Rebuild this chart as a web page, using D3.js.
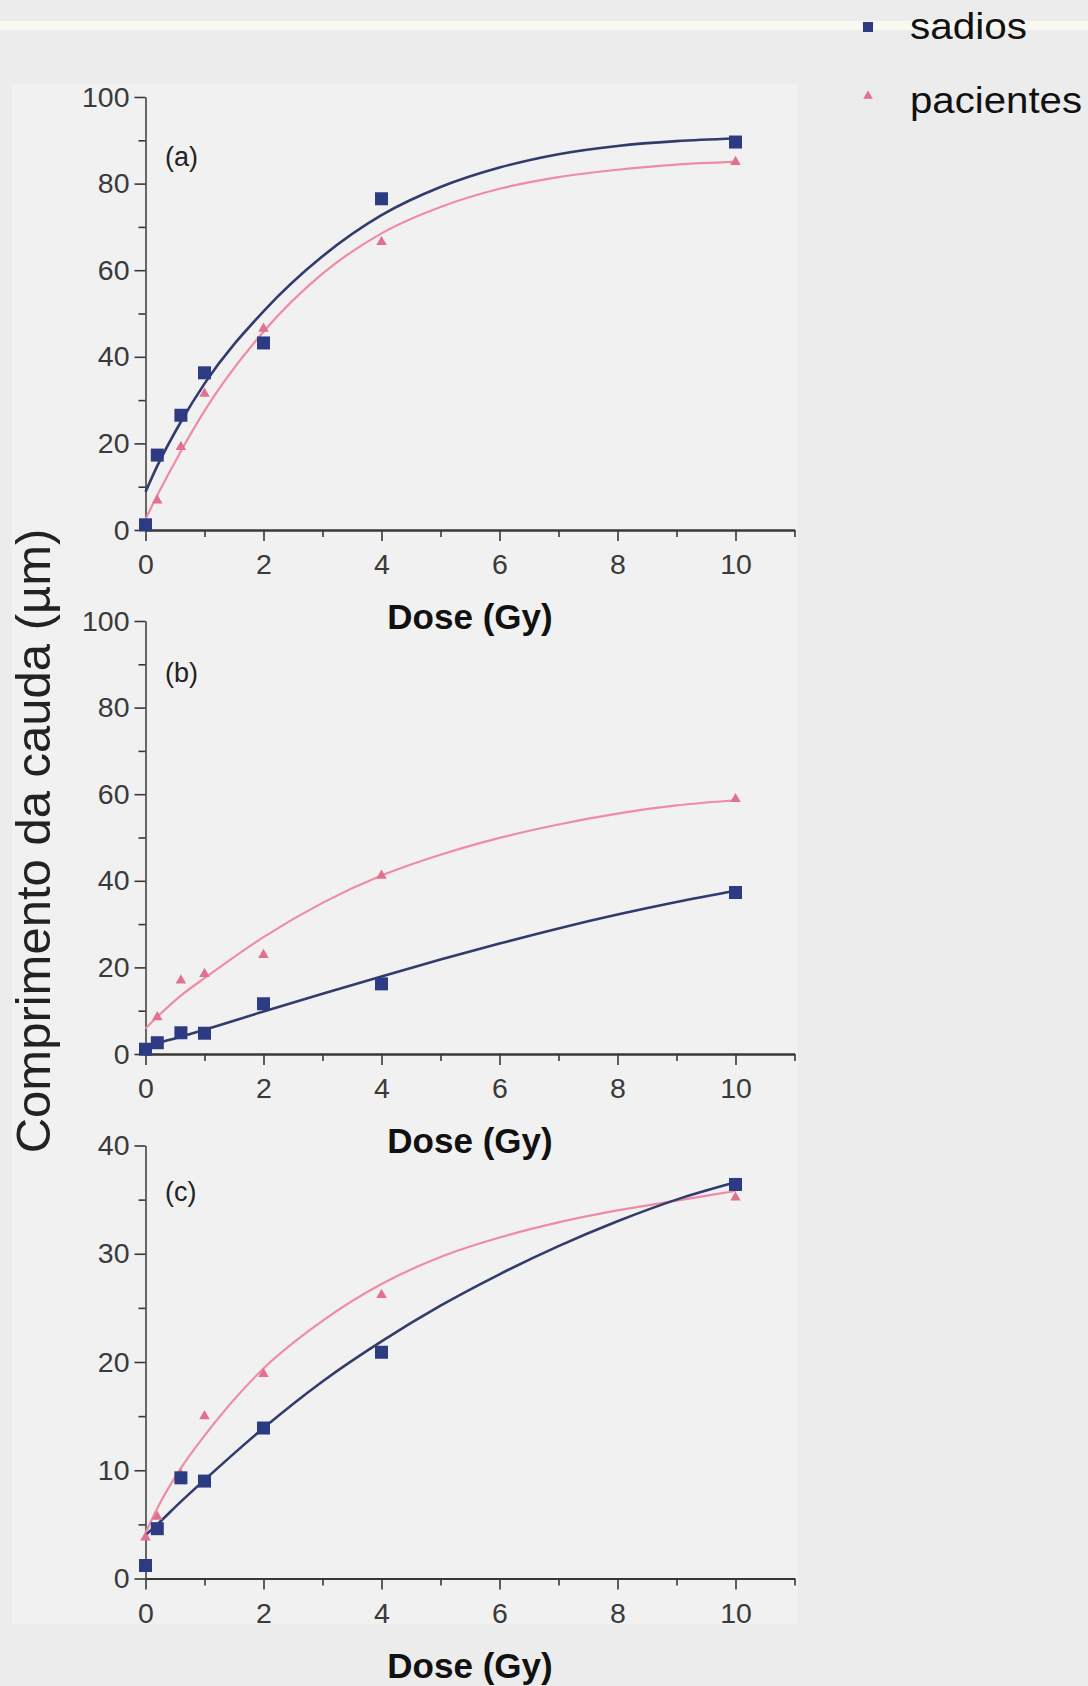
<!DOCTYPE html>
<html>
<head>
<meta charset="utf-8">
<script src="https://cdn.jsdelivr.net/npm/d3@7"></script>
<style>
	html, body { margin: 0; padding: 0; background: #ececec; }
	svg { display: block; }
	text { font-family: "Liberation Sans", Arial, sans-serif; }
</style>
</head>
<body>
<div id="chart"></div>
<script>
//Measured doses (Gy)
let doses = [0, 0.2, 0.6, 1, 2, 4, 10];

//Measured tail lengths (um), one array per panel and group
let sadiosA = [1.2, 17.3, 26.5, 36.3, 43.2, 76.5, 89.6];
let pacientesA = [1.0, 6.8, 19.2, 31.5, 46.5, 66.5, 85.0];
let sadiosB = [1.1, 2.6, 4.9, 4.8, 11.6, 16.2, 37.3];
let pacientesB = [1.5, 8.5, 17.0, 18.5, 22.9, 41.2, 58.9];
let sadiosC = [1.2, 4.6, 9.3, 9.0, 13.9, 20.9, 36.4];
let pacientesC = [3.8, 5.7, 9.6, 15.0, 18.9, 26.2, 35.2];

//Fitted curves
let fitDoses = [0, 0.2, 0.6, 1, 2, 3, 4, 5, 6, 7, 8, 9, 10];
let fitSadiosA = [8.8, 14.8, 25, 33.8, 50.5, 63.2, 72.7, 79.2, 83.7, 86.8, 88.7, 89.8, 90.4];
let fitPacientesA = [2.5, 8, 18.2, 27.5, 45.8, 59.2, 68.5, 74.6, 78.8, 81.5, 83.2, 84.4, 85];
let fitSadiosB = [1.7, 2.5, 4.0, 5.6, 9.8, 13.9, 17.9, 21.8, 25.5, 29.0, 32.2, 35.1, 37.7];
let fitPacientesB = [5.9, 8.6, 13.5, 17.5, 27.0, 34.9, 41.2, 46, 49.9, 53, 55.5, 57.4, 58.6];
let fitSadiosC = [4.0, 5.0, 7.1, 9.1, 13.9, 18.2, 21.9, 25.2, 28.1, 30.7, 33.0, 35.0, 36.6];
let fitPacientesC = [4.2, 6.5, 10.2, 13.2, 19.4, 23.8, 27.2, 29.7, 31.5, 32.9, 34, 34.9, 35.8];

//Tick values
let xMajorTicks = [0, 2, 4, 6, 8, 10];
let xMinorTicks = [1, 3, 5, 7, 9, 11];
let yMajorTicksAB = [0, 20, 40, 60, 80, 100];
let yMinorTicksAB = [10, 30, 50, 70, 90];
let yMajorTicksC = [0, 10, 20, 30, 40];
let yMinorTicksC = [5, 15, 25, 35];

let panelLabels = ["(a)", "(b)", "(c)"];
let legendLabels = ["sadios", "pacientes"];
let xTitle = "Dose (Gy)";
let yTitle = "Comprimento da cauda (\u00b5m)";

//Dimensions
let width = 1088;
let height = 1686;
let left = 145.5;
let right = 794.5;
let panelHeight = 433;

//Colours
let blueMark = "#2d3b82";
let blueLine = "#313b6c";
let pinkMark = "#e2708f";
let pinkLine = "#ee8ca5";
let axisColor = "#383838";

let panels = [
	{top: 97, yMax: 100, major: yMajorTicksAB, minor: yMinorTicksAB, label: panelLabels[0], labelY: 166,
		sadios: sadiosA, pacientes: pacientesA, fitS: fitSadiosA, fitP: fitPacientesA},
	{top: 621, yMax: 100, major: yMajorTicksAB, minor: yMinorTicksAB, label: panelLabels[1], labelY: 682,
		sadios: sadiosB, pacientes: pacientesB, fitS: fitSadiosB, fitP: fitPacientesB},
	{top: 1145.5, yMax: 40, major: yMajorTicksC, minor: yMinorTicksC, label: panelLabels[2], labelY: 1201,
		sadios: sadiosC, pacientes: pacientesC, fitS: fitSadiosC, fitP: fitPacientesC}
];

//SVG container
let svg = d3.select("#chart").append("svg")
	.attr("width", width)
	.attr("height", height);

//Background, slightly lighter behind the plots
svg.append("rect")
	.attr("width", width)
	.attr("height", height)
	.attr("fill", "#ececec");
svg.append("rect")
	.attr("x", 12)
	.attr("y", 84)
	.attr("width", 786)
	.attr("height", 1540)
	.attr("fill", "#f1f1f1");

//Faint scan streak near the top
svg.append("rect")
	.attr("x", 0)
	.attr("y", 21)
	.attr("width", width)
	.attr("height", 9)
	.attr("fill", "#fbfbf3")
	.attr("opacity", 0.85);

let x = d3.scaleLinear().domain([0, 11]).range([left, right]);

let trianglePath = d3.symbol().type(d3.symbolTriangle).size(48);

//Draw one panel
let drawPanel = function(p){
	let bottom = p.top + panelHeight;
	let y = d3.scaleLinear().domain([0, p.yMax]).range([bottom, p.top]);
	let g = svg.append("g");

	//Y axis
	g.append("g")
		.attr("transform", "translate(" + left + ",0)")
		.call(d3.axisLeft(y).tickValues(p.major).tickSize(11).tickSizeOuter(0).tickPadding(5));
	g.append("g")
		.attr("transform", "translate(" + left + ",0)")
		.call(d3.axisLeft(y).tickValues(p.minor).tickSize(7).tickSizeOuter(0).tickFormat(""));

	//X axis
	let xMajor = g.append("g")
		.attr("transform", "translate(0," + bottom + ")")
		.call(d3.axisBottom(x).tickValues(xMajorTicks).tickSize(11).tickSizeOuter(0).tickPadding(13));
	let xMinor = g.append("g")
		.attr("transform", "translate(0," + bottom + ")")
		.call(d3.axisBottom(x).tickValues(xMinorTicks).tickSize(7).tickSizeOuter(0).tickFormat(""));
	xMajor.select(".domain").attr("stroke-width", 2.2);
	xMinor.select(".domain").attr("stroke-width", 2.2);

	g.selectAll(".domain").attr("stroke", axisColor);
	g.selectAll(".tick line").attr("stroke", axisColor).attr("stroke-width", 1.6);
	g.selectAll(".tick text")
		.attr("fill", "#3a3a3a")
		.style("font-size", "28.5px")
		.style("font-family", "'Liberation Sans', Arial, sans-serif");

	//X axis title
	g.append("text")
		.attr("x", 470)
		.attr("y", bottom + 99)
		.attr("text-anchor", "middle")
		.style("font-size", "35px")
		.style("font-weight", "bold")
		.attr("fill", "#111")
		.text(xTitle);

	//Panel label
	g.append("text")
		.attr("x", 165)
		.attr("y", p.labelY)
		.style("font-size", "27px")
		.attr("fill", "#222")
		.text(p.label);

	//Fitted curves
	let line = d3.line()
		.x(function(d){ return x(d[0]); })
		.y(function(d){ return y(d[1]); })
		.curve(d3.curveMonotoneX);

	g.append("path")
		.attr("d", line(fitDoses.map(function(d, i){ return [d, p.fitP[i]]; })))
		.attr("fill", "none")
		.attr("stroke", pinkLine)
		.attr("stroke-width", 2.2);
	g.append("path")
		.attr("d", line(fitDoses.map(function(d, i){ return [d, p.fitS[i]]; })))
		.attr("fill", "none")
		.attr("stroke", blueLine)
		.attr("stroke-width", 2.6);

	//Markers
	g.selectAll(".tri")
			.data(p.pacientes)
		.enter()
			.append("path")
				.attr("class", "tri")
				.attr("d", trianglePath)
				.attr("fill", pinkMark)
				.attr("transform", function(d, i){
					return "translate(" + x(doses[i]) + "," + y(d) + ")";
				});
	g.selectAll(".sq")
			.data(p.sadios)
		.enter()
			.append("rect")
				.attr("class", "sq")
				.attr("width", 13)
				.attr("height", 13)
				.attr("fill", blueMark)
				.attr("x", function(d, i){ return x(doses[i]) - 6.5; })
				.attr("y", function(d){ return y(d) - 6.5; });
}

panels.forEach(drawPanel);

//Y axis title
svg.append("text")
	.attr("transform", "translate(50,841) rotate(-90)")
	.attr("text-anchor", "middle")
	.style("font-size", "49px")
	.attr("fill", "#222")
	.text(yTitle);

//Legend
svg.append("rect")
	.attr("x", 863)
	.attr("y", 22)
	.attr("width", 10)
	.attr("height", 10)
	.attr("fill", blueMark);
svg.append("path")
	.attr("d", d3.symbol().type(d3.symbolTriangle).size(40)())
	.attr("transform", "translate(868,96)")
	.attr("fill", pinkMark);

let legendWidths = [117, 172];
let legendY = [39, 113];
legendLabels.forEach(function(label, i){
	svg.append("text")
		.attr("x", 910)
		.attr("y", legendY[i])
		.attr("textLength", legendWidths[i])
		.attr("lengthAdjust", "spacingAndGlyphs")
		.style("font-size", "36px")
		.attr("fill", "#111")
		.text(label);
});
</script>
</body>
</html>
